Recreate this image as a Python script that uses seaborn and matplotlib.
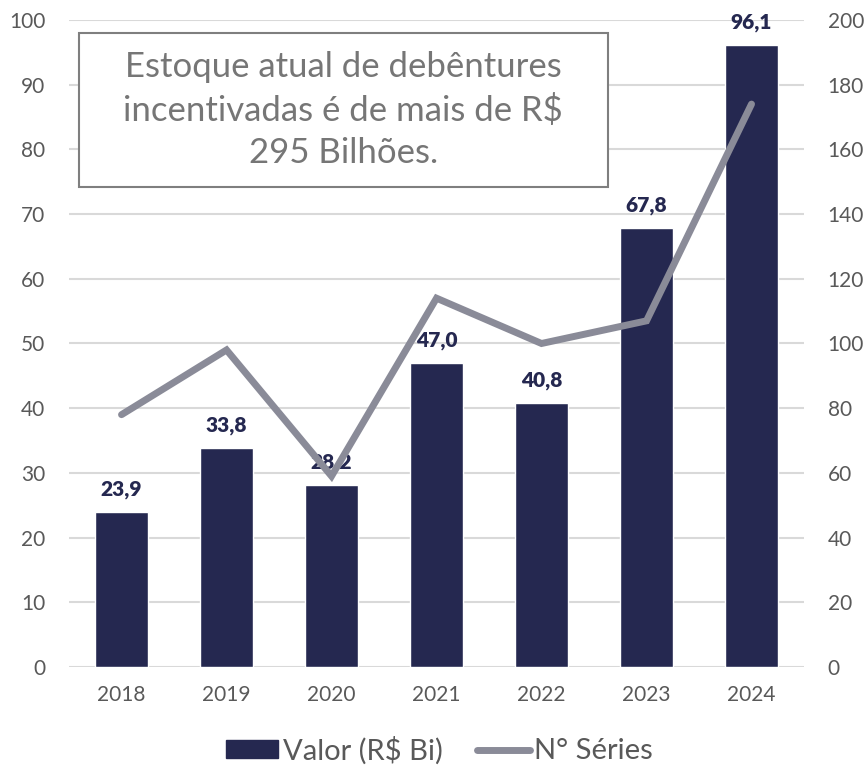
import matplotlib
matplotlib.use("Agg")
import matplotlib.pyplot as plt
import seaborn as sns
import pandas as pd
from matplotlib.patches import Patch, Rectangle
from matplotlib.lines import Line2D

anos = ["2018", "2019", "2020", "2021", "2022", "2023", "2024"]
valor = [23.9, 33.8, 28.2, 47.0, 40.8, 67.8, 96.1]
series = [78, 98, 59, 114, 100, 107, 174]
rotulos = ["23,9", "33,8", "28,2", "47,0", "40,8", "67,8", "96,1"]

sns.set_theme(style="white")
plt.rcParams["font.family"] = ["Lato", "DejaVu Sans"]

bar_color = "#252850"
line_color = "#8A8B98"
tick_color = "#595959"

df = pd.DataFrame({"ano": anos, "valor": valor, "series": series})

fig = plt.figure(figsize=(8.65, 7.68), dpi=100)
ax = fig.add_axes([0.0798, 0.1315, 0.8497, 0.8425])
sns.barplot(data=df, x="ano", y="valor", color=bar_color, width=0.5, ax=ax, saturation=1)
ax.set_ylim(0, 100)
ax.set_yticks(range(0, 101, 10))
ax.set_xlim(-0.5, 6.5)
ax.yaxis.grid(True, color="#D9D9D9", linewidth=1.5)
ax.set_axisbelow(True)
for s in ax.spines.values():
    s.set_visible(False)
ax.set_xlabel("")
ax.set_ylabel("")
ax.tick_params(axis="x", length=0, labelsize=15, colors=tick_color, pad=13)
ax.tick_params(axis="y", length=0, labelsize=15, colors=tick_color, pad=17)

for i, (v, lab) in enumerate(zip(valor, rotulos)):
    ax.text(i, v + 2.0, lab, ha="center", va="bottom", fontsize=15, fontweight="heavy", color=bar_color)

ax2 = ax.twinx()
sns.lineplot(x=list(range(len(anos))), y=series, ax=ax2, color=line_color, linewidth=5,
             solid_capstyle="round", solid_joinstyle="miter")
ax2.set_ylim(0, 200)
ax2.set_yticks(range(0, 201, 20))
ax2.set_xlim(-0.5, 6.5)
for s in ax2.spines.values():
    s.set_visible(False)
ax2.tick_params(axis="y", length=0, labelsize=15, colors=tick_color, pad=17)
ax2.grid(False)

box = Rectangle((0.0136, 0.742), 0.7197, 0.238, transform=ax.transAxes, facecolor="white",
                edgecolor="#7F7F7F", linewidth=1.5, zorder=9)
ax2.add_patch(box)
ax2.text(0.373, 0.861, "Estoque atual de debêntures\nincentivadas é de mais de R$\n295 Bilhões.",
         transform=ax.transAxes, ha="center", va="center", fontsize=25, color="#767676",
         linespacing=1.4, zorder=10)

handles = [Patch(facecolor=bar_color, edgecolor=bar_color),
           Line2D([0], [0], color=line_color, linewidth=5, solid_capstyle="round")]
fig.legend(handles, ["Valor (R$ Bi)", "N° Séries"], loc="center", bbox_to_anchor=(0.508, 0.023),
           ncol=2, frameon=False, fontsize=21, labelcolor=tick_color, handlelength=1.8,
           handleheight=0.6, handletextpad=0.15, columnspacing=1.2)

fig.savefig("out.png", dpi=100)
